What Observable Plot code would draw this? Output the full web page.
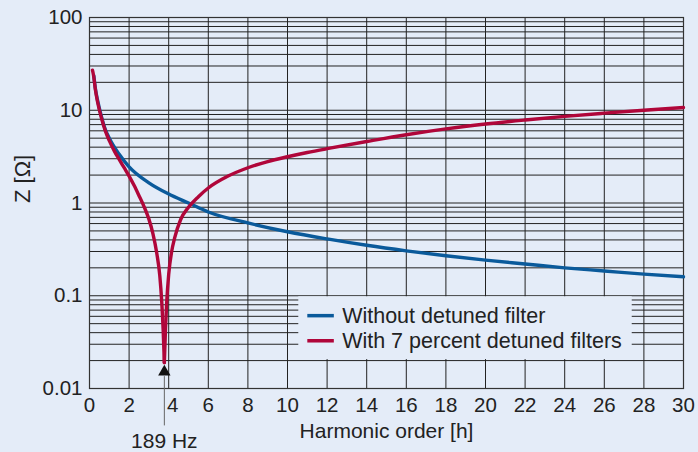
<!DOCTYPE html>
<html><head><meta charset="utf-8">
<script src="https://cdn.jsdelivr.net/npm/d3@7"></script>
<script src="https://cdn.jsdelivr.net/npm/@observablehq/plot@0.6"></script>
<style>
html,body{margin:0;padding:0;background:#e4ecf8;}
#chart{width:698px;height:452px;overflow:hidden;}
</style></head><body><div id="chart"></div>
<script>
// ---- data ----
const xTicks = [0, 2, 4, 6, 8, 10, 12, 14, 16, 18, 20, 22, 24, 26, 28, 30];
const yTicks = [0.01, 0.1, 1, 10, 100];
const yTickLabels = ["0.01", "0.1", "1", "10", "100"];
const yDecades = [0.01, 0.1, 1, 10];
const yMultiples = [1, 2, 3, 4, 5, 6, 7, 8, 9];

const seriesNames = ["Without detuned filter", "With 7 percent detuned filters"];
const seriesColors = ["#0a5a9b", "#b0063a"];

// Without detuned filter
const hWithout = [0.22, 0.3, 0.4, 0.6, 0.8, 1, 1.5, 2, 3, 4, 5, 6, 8, 10, 12, 14, 16, 18, 20, 22, 24, 26, 28, 30];
const zWithout = [23.5, 17, 13, 8.6, 6.2, 5.0, 3.35, 2.45, 1.65, 1.25, 1.0, 0.8, 0.61, 0.49, 0.41, 0.35, 0.305, 0.27, 0.242, 0.22, 0.2, 0.185, 0.171, 0.16];

// With 7 percent detuned filters (left branch down to the resonance, right branch up from it)
const hDetunedLeft = [0.15, 0.2, 0.3, 0.4, 0.6, 0.8, 1, 1.25, 1.5, 1.75, 2, 2.25, 2.5, 2.75, 3, 3.2, 3.4, 3.55, 3.65, 3.72, 3.78];
const zDetunedLeft = [27, 24, 16.5, 12.5, 8.3, 6.0, 4.7, 3.65, 2.95, 2.4, 1.95, 1.55, 1.2, 0.92, 0.67, 0.47, 0.285, 0.165, 0.085, 0.043, 0.019];
const hDetunedRight = [3.78, 3.84, 3.9, 4.0, 4.15, 4.3, 4.6, 5.0, 5.5, 6, 7, 8, 9, 10, 11, 12, 14, 16, 18, 20, 22, 24, 26, 28, 30];
const zDetunedRight = [0.019, 0.045, 0.085, 0.17, 0.3, 0.42, 0.66, 0.9, 1.17, 1.45, 1.95, 2.4, 2.8, 3.15, 3.5, 3.85, 4.6, 5.45, 6.3, 7.1, 7.85, 8.6, 9.3, 10.0, 10.7];

const resonanceHz = 189;
const fundamentalHz = 50;
const resonanceLabel = "189 Hz";
const xTitle = "Harmonic order [h]";
const yTitle = "Z [Ω]";

// ---- build tables ----
const rows = [];
hWithout.forEach((h, i) => rows.push({h, z: zWithout[i], series: seriesNames[0], part: "a"}));
hDetunedLeft.forEach((h, i) => rows.push({h, z: zDetunedLeft[i], series: seriesNames[1], part: "b"}));
hDetunedRight.forEach((h, i) => rows.push({h, z: zDetunedRight[i], series: seriesNames[1], part: "c"}));

const gridYValues = [];
yDecades.forEach(d => yMultiples.forEach(m => gridYValues.push(+(d * m).toPrecision(3))));
gridYValues.push(100);
const gridXValues = xTicks.filter(v => v > 0 && v < 30);

const hRes = resonanceHz / fundamentalHz;
const bg = "#e4ecf8";
const ink = "#222";
const font = "'Liberation Sans', Arial, sans-serif";

const legend = seriesNames.map((name, i) => ({name, color: seriesColors[i], y: [0.061, 0.0327][i]}));

const chart = Plot.plot({
  width: 698,
  height: 452,
  marginLeft: 89,
  marginRight: 15,
  marginTop: 17,
  marginBottom: 64,
  style: {background: "transparent", fontFamily: font, fontSize: "20px", color: ink, overflow: "visible"},
  x: {domain: [0, 30]},
  y: {type: "log", domain: [0.01, 100]},
  color: {domain: seriesNames, range: seriesColors},
  marks: [
    Plot.gridY(gridYValues, {stroke: "#222", strokeOpacity: 1, strokeWidth: 1}),
    Plot.gridX(gridXValues, {stroke: "#222", strokeOpacity: 1, strokeWidth: 1}),
    // legend box
    Plot.rect([0], {x1: 10.57, x2: 27.41, y1: 0.02, y2: 0.1, insetTop: 1, insetBottom: 1, fill: bg}),
    Plot.frame({stroke: "#333", strokeWidth: 1.2}),
    Plot.link(legend, {x1: 11.0, x2: 12.34, y1: "y", y2: "y", stroke: "color", strokeWidth: 3.5}),
    Plot.text(legend, {x: 12.76, y: "y", text: "name", textAnchor: "start", fontSize: 21.5, fill: ink}),
    // data
    Plot.line(rows, {x: "h", y: "z", z: "part", stroke: "series", strokeWidth: 3.4, curve: "monotone-x"}),
    // annotation
    Plot.link([0], {x1: hRes, x2: hRes, y1: 0.0136, y2: 0.0040, stroke: "#666", strokeWidth: 1}),
    Plot.dot([0], {x: hRes, y: 0.0151, symbol: "triangle", r: 4.6, fill: "#111", stroke: "none"}),
    Plot.text([resonanceLabel], {x: hRes, y: 0.0027, text: d => d, fontSize: 21, fill: ink}),
    // axes
    Plot.axisY(yTicks, {tickSize: 0, tickPadding: 7, tickFormat: (d) => yTickLabels[yTicks.indexOf(d)], fontSize: 20.5, fill: ink, label: null}),
    Plot.axisX(xTicks.filter(v => v !== 4), {tickSize: 0, tickPadding: 9, fontSize: 20.5, fill: ink, label: null}),
    Plot.axisX([4], {tickSize: 0, tickPadding: 9, fontSize: 20.5, fill: ink, dx: 4, label: null}),
    Plot.text([xTitle], {frameAnchor: "bottom", dy: 49, fontSize: 21, fill: ink}),
    Plot.text([yTitle], {frameAnchor: "left", dx: -67, rotate: -90, fontSize: 22, fill: ink})
  ]
});
document.getElementById("chart").appendChild(chart);
</script>
</body></html>
